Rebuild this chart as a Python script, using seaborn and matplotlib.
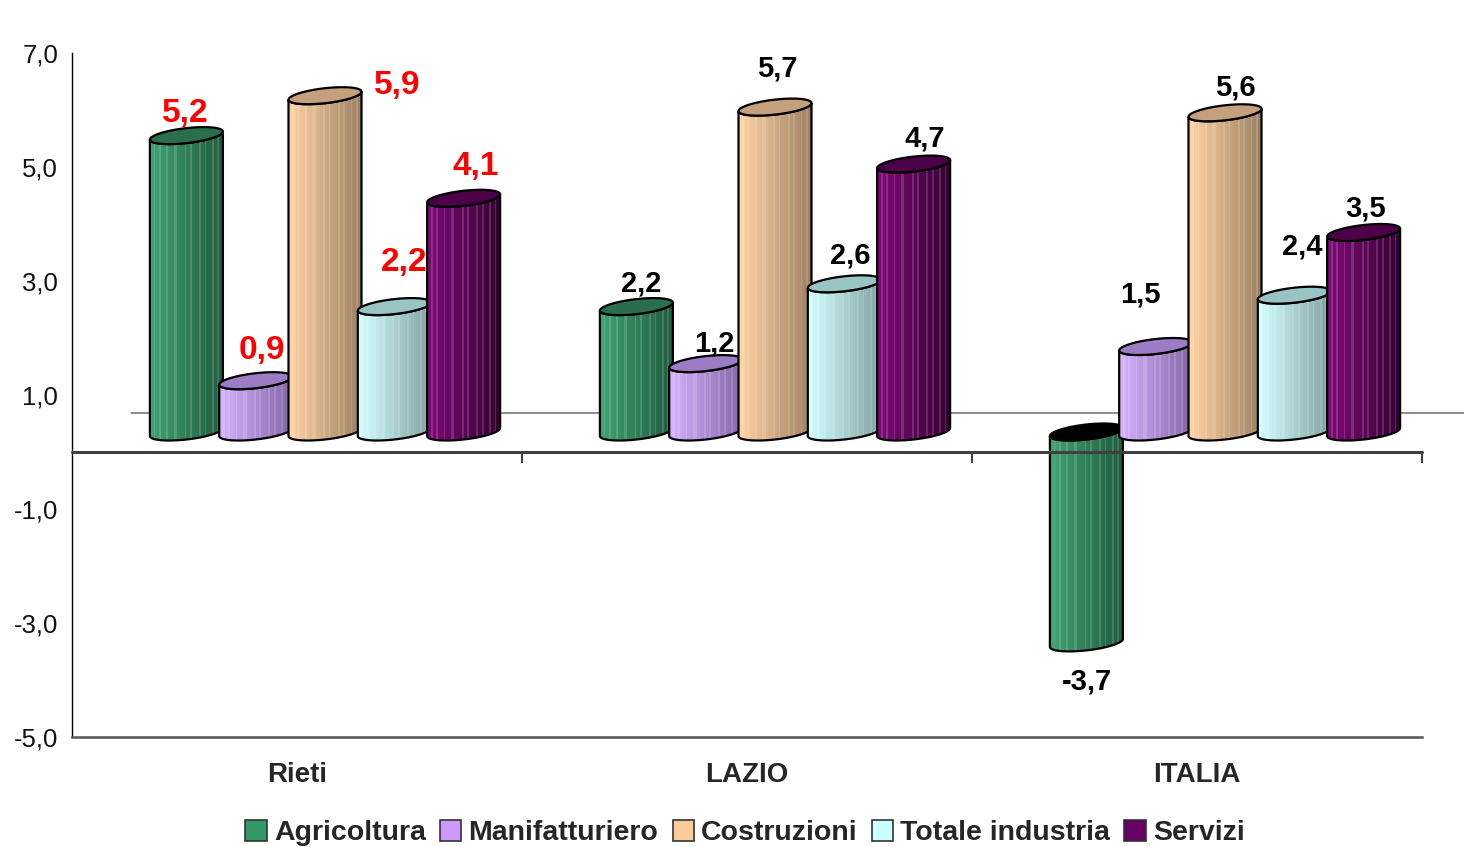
import numpy as np
import pandas as pd
import seaborn as sns
import matplotlib
matplotlib.use("Agg")
import matplotlib.pyplot as plt
from matplotlib.patches import Polygon, Patch
from matplotlib.collections import PolyCollection
from matplotlib.transforms import offset_copy
from matplotlib.colors import to_rgb

# ---- data -------------------------------------------------------------
aree = ["Rieti", "LAZIO", "ITALIA"]
settori = ["Agricoltura", "Manifatturiero", "Costruzioni", "Totale industria", "Servizi"]
rieti = [5.2, 0.9, 5.9, 2.2, 4.1]
lazio = [2.2, 1.2, 5.7, 2.6, 4.7]
italia = [-3.7, 1.5, 5.6, 2.4, 3.5]
yticks = [-5, -3, -1, 1, 3, 5, 7]

# ---- styling ----------------------------------------------------------
colori = ["#339966", "#CC99FF", "#FFCC99", "#CCFFFF", "#660066"]
# (left of cylinder, right of cylinder, top cap)
shade = [
    ("#40a272", "#1e5c3d", "#2a6e4c"),
    ("#d6b2ff", "#8466a6", "#9c7cc4"),
    ("#ffd4a4", "#9e8062", "#c4a07c"),
    ("#d4ffff", "#82a2a2", "#98c4c4"),
    ("#7e0a76", "#360034", "#4c0048"),
]
# label nudges in pixels (dx, dy up) from the cap centre of each cylinder
nudge = [
    [(-1, 22), (6, 30), (72, 10), (10, 44), (12, 32)],
    [(5, 23), (9, 20), (2, 39), (6, 28), (11, 26)],
    [(1, -39), (-15, 52), (10, 25), (8, 49), (2, 24)],
]
highlight = {2, 5, 9, 13, 14, 19, 22, 27, 30, 34, 37}

df = pd.DataFrame({
    "area": np.repeat(aree, len(settori)),
    "settore": settori * len(aree),
    "valore": rieti + lazio + italia,
})

sns.set_style("white")
plt.rcParams["font.family"] = ["Liberation Sans", "DejaVu Sans"]

W, H = 1464, 847
fig = plt.figure(figsize=(W / 100, H / 100), dpi=100)
ax = fig.add_axes([72 / W, 1 - 737 / H, (1422 - 72) / W, (737 - 53) / H])

group_w = 0.77
sns.barplot(data=df, x="area", y="valore", hue="settore", order=aree,
            hue_order=settori, palette=colori, width=group_w, gap=0,
            errorbar=None, legend=False, ax=ax)

ax.set_xlim(-0.5, 2.5)
ax.set_ylim(-5, 7)

p0 = ax.transData.transform((0, 0))
sx = ax.transData.transform((1, 0))[0] - p0[0]
sy = ax.transData.transform((0, 1))[1] - p0[1]

bar_tr = offset_copy(ax.transData, fig=fig, x=28, y=20, units="dots")
floor_tr = offset_copy(ax.transData, fig=fig, x=59, y=39, units="dots")

# floor edge of the 3-D box
ax.plot([-0.5, 2.7], [0, 0], transform=floor_tr, color="#6e6e6e", lw=1.1,
        zorder=1, clip_on=False)


def ellipse_pts(cx, cy, A, B, K, phi):
    return np.column_stack([cx + A * np.cos(phi), cy + B * np.sin(phi) + K * np.cos(phi)])


bars = []
for p in ax.patches:
    w = p.get_width()
    xc = p.get_x() + w / 2
    cat = int(round(xc))
    hidx = int(round((xc - cat + group_w / 2 - w / 2) / w))
    bars.append((cat, hidx, xc, w, p.get_y(), p.get_height()))
    p.set_visible(False)

bars.sort(key=lambda b: (b[0], b[1]))
a_px, b_px, k = 36.5, 7.5, 0.11
nstrip = 40
for n, (cat, hidx, xc, w, y0, h) in enumerate(bars):
    A = a_px / sx
    B = b_px / sy
    K = k * a_px / sy
    lo, hi = min(y0, y0 + h), max(y0, y0 + h)
    z = 3 + n * 0.1
    left, right, top = [np.array(to_rgb(c)) for c in shade[hidx]]

    phi_b = np.linspace(np.pi, 2 * np.pi, 60)
    phi_t = np.linspace(0, -np.pi, 60)
    body = np.vstack([ellipse_pts(xc, lo, A, B, K, phi_b),
                      ellipse_pts(xc, hi, A, B, K, phi_t)])
    body_patch = Polygon(body, closed=True, facecolor="none", edgecolor="black",
                         lw=1.6, transform=bar_tr, zorder=z + 0.02)
    ax.add_patch(body_patch)

    xs = np.linspace(xc - A, xc + A, nstrip + 1)
    ylo, yhi = lo - B - K - 0.2, hi + B + K + 0.2
    polys, cols = [], []
    for i in range(nstrip):
        t = i / (nstrip - 1)
        c = left * (1 - t) + right * t
        if i in highlight:
            c = c + (1 - c) * 0.15
        polys.append([(xs[i], ylo), (xs[i + 1], ylo), (xs[i + 1], yhi), (xs[i], yhi)])
        cols.append(c)
    pc = PolyCollection(polys, facecolors=cols, edgecolors="none",
                        transform=bar_tr, zorder=z, antialiased=False)
    ax.add_collection(pc)
    pc.set_clip_path(body_patch)

    cap_face = top if h >= 0 else np.array([0.0, 0.0, 0.0])
    cap = Polygon(ellipse_pts(xc, hi, A, B, K, np.linspace(0, 2 * np.pi, 90)),
                  closed=True, facecolor=cap_face, edgecolor="black", lw=1.6,
                  transform=bar_tr, zorder=z + 0.04)
    ax.add_patch(cap)

    # value label
    v = y0 + h
    dx, dy = nudge[cat][hidx]
    anchor = hi if v >= 0 else lo
    red = cat == 0
    ax.annotate(f"{v:.1f}".replace(".", ","), xy=(xc, anchor), xycoords=bar_tr,
                xytext=(dx, dy), textcoords="offset pixels", ha="center",
                va="center", fontsize=24 if red else 21, fontweight="bold",
                color="#ff0000" if red else "black", zorder=50,
                annotation_clip=False)

# zero line with category separators
ax.plot([-0.5, 2.5], [0, 0], color="#404040", lw=2.2, zorder=40, clip_on=False)
ax.vlines([0.5, 1.5, 2.5], -11 / sy, 0, color="#404040", lw=1.5, zorder=40,
          clip_on=False)

# axes styling
for s in ("top", "right"):
    ax.spines[s].set_visible(False)
ax.spines["left"].set_color("black")
ax.spines["left"].set_linewidth(1.0)
ax.spines["bottom"].set_color("#555555")
ax.spines["bottom"].set_linewidth(1.8)

ax.set_yticks(yticks)
ax.set_yticklabels([f"{t:.1f}".replace(".", ",") for t in yticks])
ax.tick_params(axis="y", direction="out", length=8, width=1.2, color="#666666",
               labelsize=18.5, labelcolor="#111111", pad=2)
ax.set_xticks([0, 1, 2])
ax.set_xticklabels(aree, fontsize=20, fontweight="bold")
ax.set_xticks([-0.5, 0.5, 1.5, 2.5], minor=True)
ax.tick_params(axis="x", which="major", length=0, pad=18)
ax.tick_params(axis="x", which="minor", direction="out", length=9, width=1.2,
               color="#444444")
ax.set_xlabel("")
ax.set_ylabel("")
ax.grid(False)

handles = [Patch(facecolor=c, edgecolor="#333333", lw=1.2) for c in colori]
fig.legend(handles, settori, loc="center", bbox_to_anchor=(745 / W, 1 - 833 / H),
           ncol=5, frameon=False, handlelength=0.75, handleheight=0.75,
           handletextpad=0.25, columnspacing=0.5,
           prop={"size": 20.5, "weight": "bold"})

fig.savefig("out.png", dpi=100)
